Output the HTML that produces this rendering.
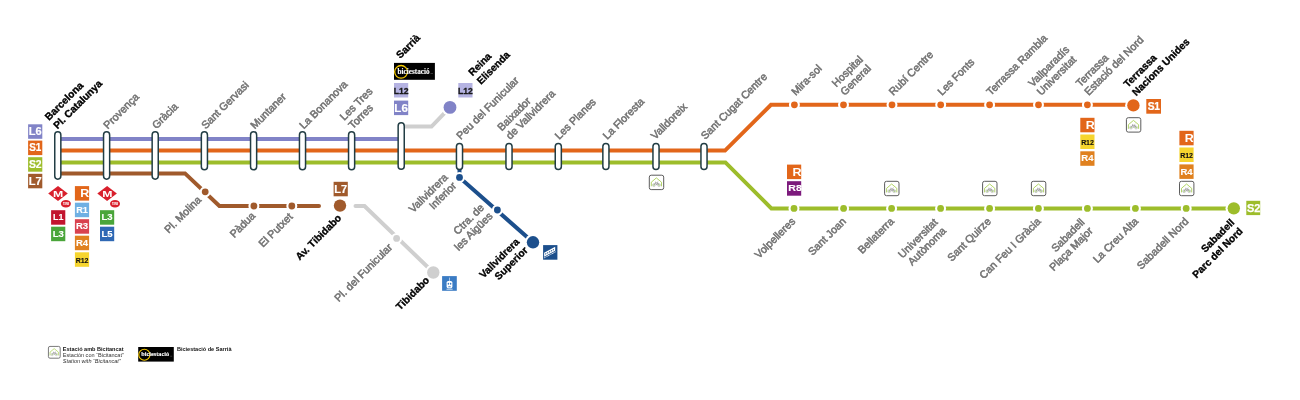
<!DOCTYPE html>
<html><head><meta charset="utf-8"><title>FGC</title>
<style>
html,body{margin:0;padding:0;background:#fff;}
body{width:1300px;height:400px;overflow:hidden;font-family:"Liberation Sans",sans-serif;}
svg{display:block;font-family:"Liberation Sans",sans-serif;will-change:transform;opacity:0.999;}
</style></head><body>
<svg width="1300" height="400" viewBox="0 0 1300 400">
<g fill="none" stroke-width="4" stroke-linejoin="miter" stroke-linecap="butt">
<path d="M57.8 139.0H401.2" stroke="#8183c7"/>
<path d="M57.8 173.4H185 L219.4 206 H319" stroke="#a05a2c" stroke-linecap="round"/>
<path d="M57.8 162.4H725.4 L771.4 208.4 H1233.5" stroke="#9dbd2b"/>
<path d="M57.8 150.6H725 L771 104.8 H1133.4" stroke="#e2661a"/>
<path d="M401.2 126.6H431.5L450 107.4" stroke="#cfcfcf"/>
<path d="M355.5 206H364.5L433.3 272.5" stroke="#cfcfcf" stroke-linecap="round"/>
<path d="M459.5 168V177.4L533 242.3" stroke="#1c4f8c"/>
</g>
<circle cx="794.4" cy="104.8" r="5.5" fill="#fff"/><circle cx="794.4" cy="104.8" r="3.4" fill="#e2661a"/>
<circle cx="843.5" cy="104.8" r="5.5" fill="#fff"/><circle cx="843.5" cy="104.8" r="3.4" fill="#e2661a"/>
<circle cx="892.0" cy="104.8" r="5.5" fill="#fff"/><circle cx="892.0" cy="104.8" r="3.4" fill="#e2661a"/>
<circle cx="940.7" cy="104.8" r="5.5" fill="#fff"/><circle cx="940.7" cy="104.8" r="3.4" fill="#e2661a"/>
<circle cx="989.6" cy="104.8" r="5.5" fill="#fff"/><circle cx="989.6" cy="104.8" r="3.4" fill="#e2661a"/>
<circle cx="1038.5" cy="104.8" r="5.5" fill="#fff"/><circle cx="1038.5" cy="104.8" r="3.4" fill="#e2661a"/>
<circle cx="1087.4" cy="104.8" r="5.5" fill="#fff"/><circle cx="1087.4" cy="104.8" r="3.4" fill="#e2661a"/>
<circle cx="1133.4" cy="105.4" r="8.3" fill="#fff"/><circle cx="1133.4" cy="105.4" r="6.2" fill="#e2661a"/>
<circle cx="794" cy="208.4" r="5.5" fill="#fff"/><circle cx="794" cy="208.4" r="3.4" fill="#9dbd2b"/>
<circle cx="843.6" cy="208.4" r="5.5" fill="#fff"/><circle cx="843.6" cy="208.4" r="3.4" fill="#9dbd2b"/>
<circle cx="891.6" cy="208.4" r="5.5" fill="#fff"/><circle cx="891.6" cy="208.4" r="3.4" fill="#9dbd2b"/>
<circle cx="940.6" cy="208.4" r="5.5" fill="#fff"/><circle cx="940.6" cy="208.4" r="3.4" fill="#9dbd2b"/>
<circle cx="989.6" cy="208.4" r="5.5" fill="#fff"/><circle cx="989.6" cy="208.4" r="3.4" fill="#9dbd2b"/>
<circle cx="1038.4" cy="208.4" r="5.5" fill="#fff"/><circle cx="1038.4" cy="208.4" r="3.4" fill="#9dbd2b"/>
<circle cx="1087.4" cy="208.4" r="5.5" fill="#fff"/><circle cx="1087.4" cy="208.4" r="3.4" fill="#9dbd2b"/>
<circle cx="1135.4" cy="208.4" r="5.5" fill="#fff"/><circle cx="1135.4" cy="208.4" r="3.4" fill="#9dbd2b"/>
<circle cx="1186.2" cy="208.4" r="5.5" fill="#fff"/><circle cx="1186.2" cy="208.4" r="3.4" fill="#9dbd2b"/>
<circle cx="1233.8" cy="208.35" r="8.3" fill="#fff"/><circle cx="1233.8" cy="208.35" r="6.2" fill="#9dbd2b"/>
<circle cx="205.2" cy="191.8" r="5.5" fill="#fff"/><circle cx="205.2" cy="191.8" r="3.4" fill="#a05a2c"/>
<circle cx="253.9" cy="206" r="5.5" fill="#fff"/><circle cx="253.9" cy="206" r="3.4" fill="#a05a2c"/>
<circle cx="291.8" cy="206" r="5.5" fill="#fff"/><circle cx="291.8" cy="206" r="3.4" fill="#a05a2c"/>
<circle cx="340" cy="205.6" r="8.3" fill="#fff"/><circle cx="340" cy="205.6" r="6.2" fill="#a05a2c"/>
<circle cx="396.6" cy="238.4" r="5.5" fill="#fff"/><circle cx="396.6" cy="238.4" r="3.4" fill="#cfcfcf"/>
<circle cx="433.3" cy="272.5" r="8.3" fill="#fff"/><circle cx="433.3" cy="272.5" r="6.2" fill="#cfcfcf"/>
<circle cx="459.5" cy="177.4" r="5.5" fill="#fff"/><circle cx="459.5" cy="177.4" r="3.4" fill="#1c4f8c"/>
<circle cx="497.4" cy="210" r="5.5" fill="#fff"/><circle cx="497.4" cy="210" r="3.4" fill="#1c4f8c"/>
<circle cx="533" cy="242.3" r="8.3" fill="#fff"/><circle cx="533" cy="242.3" r="6.2" fill="#1c4f8c"/>
<circle cx="450" cy="107.4" r="8.5" fill="#fff"/><circle cx="450" cy="107.4" r="6.4" fill="#8183c7"/>
<rect x="54.75" y="131.85" width="6.10" height="47.30" rx="3.05" fill="#fff" stroke="#223d44" stroke-width="1.5"/>
<rect x="103.55" y="131.85" width="6.10" height="47.30" rx="3.05" fill="#fff" stroke="#223d44" stroke-width="1.5"/>
<rect x="152.15" y="131.85" width="6.10" height="47.30" rx="3.05" fill="#fff" stroke="#223d44" stroke-width="1.5"/>
<rect x="201.35" y="131.85" width="6.10" height="37.90" rx="3.05" fill="#fff" stroke="#223d44" stroke-width="1.5"/>
<rect x="250.55" y="131.85" width="6.10" height="37.90" rx="3.05" fill="#fff" stroke="#223d44" stroke-width="1.5"/>
<rect x="299.45" y="131.85" width="6.10" height="37.90" rx="3.05" fill="#fff" stroke="#223d44" stroke-width="1.5"/>
<rect x="348.55" y="131.85" width="6.10" height="37.90" rx="3.05" fill="#fff" stroke="#223d44" stroke-width="1.5"/>
<rect x="398.15" y="122.85" width="6.10" height="46.50" rx="3.05" fill="#fff" stroke="#223d44" stroke-width="1.5"/>
<rect x="456.45" y="143.45" width="6.10" height="26.00" rx="3.05" fill="#fff" stroke="#223d44" stroke-width="1.5"/>
<rect x="505.95" y="143.45" width="6.10" height="26.00" rx="3.05" fill="#fff" stroke="#223d44" stroke-width="1.5"/>
<rect x="555.25" y="143.45" width="6.10" height="26.00" rx="3.05" fill="#fff" stroke="#223d44" stroke-width="1.5"/>
<rect x="602.85" y="143.45" width="6.10" height="26.00" rx="3.05" fill="#fff" stroke="#223d44" stroke-width="1.5"/>
<rect x="652.95" y="143.45" width="6.10" height="26.00" rx="3.05" fill="#fff" stroke="#223d44" stroke-width="1.5"/>
<rect x="700.95" y="143.45" width="6.10" height="26.00" rx="3.05" fill="#fff" stroke="#223d44" stroke-width="1.5"/>
<rect x="28.1" y="124.3" width="14.2" height="14.5" fill="#8183c7"/>
<text transform="translate(35.20 135.20) scale(1.0 1)" font-size="11.0" font-weight="700" fill="#fff" stroke="#fff" stroke-width="0.2" text-anchor="middle" letter-spacing="0">L6</text>
<rect x="28.1" y="140.6" width="14.2" height="14.5" fill="#e2661a"/>
<text transform="translate(35.20 151.30) scale(0.9 1)" font-size="11.0" font-weight="700" fill="#fff" stroke="#fff" stroke-width="0.2" text-anchor="middle" letter-spacing="-0.2">S1</text>
<rect x="28.1" y="157.2" width="14.2" height="14.5" fill="#9dbd2b"/>
<text transform="translate(35.20 167.90) scale(0.95 1)" font-size="11.0" font-weight="700" fill="#fff" stroke="#fff" stroke-width="0.2" text-anchor="middle" letter-spacing="-0.2">S2</text>
<rect x="28.1" y="173.8" width="14.2" height="14.5" fill="#a05a2c"/>
<text transform="translate(35.20 184.70) scale(1.0 1)" font-size="11.0" font-weight="700" fill="#fff" stroke="#fff" stroke-width="0.2" text-anchor="middle" letter-spacing="0">L7</text>
<rect x="51.1" y="210.2" width="14.2" height="14.5" fill="#c2142e"/>
<text transform="translate(58.20 220.30) scale(0.97 1)" font-size="9.2" font-weight="700" fill="#fff" stroke="#fff" stroke-width="0.12" text-anchor="middle" letter-spacing="0">L1</text>
<rect x="51.1" y="226.7" width="14.2" height="14.5" fill="#4aa53a"/>
<text transform="translate(58.20 236.80) scale(1.04 1)" font-size="9.2" font-weight="700" fill="#fff" stroke="#fff" stroke-width="0.12" text-anchor="middle" letter-spacing="0">L3</text>
<clipPath id="rc1"><rect x="74.9" y="186.1" width="14.2" height="14.5"/></clipPath>
<rect x="74.9" y="186.1" width="14.2" height="14.5" fill="#e2661a"/>
<g clip-path="url(#rc1)"><text transform="translate(89.40 197.00) scale(1.18 1)" font-size="10.6" font-weight="700" fill="#fff" text-anchor="end">R</text></g>
<rect x="74.9" y="202.7" width="14.2" height="14.5" fill="#6fb0e3"/>
<text transform="translate(82.00 212.80) scale(1.0 1)" font-size="9.2" font-weight="700" fill="#fff" stroke="#fff" stroke-width="0.12" text-anchor="middle" letter-spacing="0">R1</text>
<rect x="74.9" y="219.2" width="14.2" height="14.5" fill="#d9424f"/>
<text transform="translate(82.00 229.30) scale(1.04 1)" font-size="9.2" font-weight="700" fill="#fff" stroke="#fff" stroke-width="0.12" text-anchor="middle" letter-spacing="0">R3</text>
<rect x="74.9" y="235.7" width="14.2" height="14.5" fill="#e0811f"/>
<text transform="translate(82.00 245.80) scale(1.04 1)" font-size="9.2" font-weight="700" fill="#fff" stroke="#fff" stroke-width="0.12" text-anchor="middle" letter-spacing="0">R4</text>
<rect x="74.9" y="252.3" width="14.2" height="14.5" fill="#f6d52e"/>
<text transform="translate(82.00 262.70) scale(1.0 1)" font-size="7" font-weight="700" fill="#111" stroke="#111" stroke-width="0.12" text-anchor="middle" letter-spacing="-0.1">R12</text>
<rect x="100" y="210.2" width="14.2" height="14.5" fill="#4aa53a"/>
<text transform="translate(107.10 220.30) scale(1.04 1)" font-size="9.2" font-weight="700" fill="#fff" stroke="#fff" stroke-width="0.12" text-anchor="middle" letter-spacing="0">L3</text>
<rect x="100" y="226.7" width="14.2" height="14.5" fill="#2f68b4"/>
<text transform="translate(107.10 236.80) scale(1.04 1)" font-size="9.2" font-weight="700" fill="#fff" stroke="#fff" stroke-width="0.12" text-anchor="middle" letter-spacing="0">L5</text>
<rect x="333.6" y="181.8" width="14.2" height="14.5" fill="#a05a2c"/>
<text transform="translate(340.70 192.70) scale(1.0 1)" font-size="11.0" font-weight="700" fill="#fff" stroke="#fff" stroke-width="0.2" text-anchor="middle" letter-spacing="0">L7</text>
<rect x="394" y="83.0" width="14.2" height="14.5" fill="#b5b3e2"/>
<text transform="translate(401.10 93.90) scale(0.89 1)" font-size="9.7" font-weight="700" fill="#1a1a1a" stroke="#1a1a1a" stroke-width="0.3" text-anchor="middle" letter-spacing="0">L12</text>
<rect x="394" y="100.6" width="14.2" height="14.5" fill="#8183c7"/>
<text transform="translate(401.10 111.50) scale(1.05 1)" font-size="11.0" font-weight="700" fill="#fff" stroke="#fff" stroke-width="0.2" text-anchor="middle" letter-spacing="0">L6</text>
<rect x="458.3" y="83.0" width="14.2" height="14.5" fill="#b5b3e2"/>
<text transform="translate(465.40 93.90) scale(0.89 1)" font-size="9.7" font-weight="700" fill="#1a1a1a" stroke="#1a1a1a" stroke-width="0.3" text-anchor="middle" letter-spacing="0">L12</text>
<clipPath id="rc2"><rect x="787" y="164.6" width="14.2" height="14.5"/></clipPath>
<rect x="787" y="164.6" width="14.2" height="14.5" fill="#e2661a"/>
<g clip-path="url(#rc2)"><text transform="translate(801.50 175.50) scale(1.18 1)" font-size="10.6" font-weight="700" fill="#fff" text-anchor="end">R</text></g>
<rect x="787" y="181.2" width="14.2" height="14.5" fill="#7c1a7c"/>
<text transform="translate(795.10 191.30) scale(1.15 1)" font-size="9.2" font-weight="700" fill="#fff" stroke="#fff" stroke-width="0.12" text-anchor="middle" letter-spacing="0">R8</text>
<clipPath id="rc3"><rect x="1080.3" y="117.8" width="14.2" height="14.5"/></clipPath>
<rect x="1080.3" y="117.8" width="14.2" height="14.5" fill="#e2661a"/>
<g clip-path="url(#rc3)"><text transform="translate(1094.80 128.70) scale(1.18 1)" font-size="10.6" font-weight="700" fill="#fff" text-anchor="end">R</text></g>
<rect x="1080.3" y="134.5" width="14.2" height="14.5" fill="#f6d52e"/>
<text transform="translate(1087.40 144.90) scale(1.0 1)" font-size="7" font-weight="700" fill="#111" stroke="#111" stroke-width="0.12" text-anchor="middle" letter-spacing="-0.1">R12</text>
<rect x="1080.3" y="151.3" width="14.2" height="14.5" fill="#e0811f"/>
<text transform="translate(1087.40 161.40) scale(1.04 1)" font-size="9.2" font-weight="700" fill="#fff" stroke="#fff" stroke-width="0.12" text-anchor="middle" letter-spacing="0">R4</text>
<clipPath id="rc4"><rect x="1179.4" y="130.8" width="14.2" height="14.5"/></clipPath>
<rect x="1179.4" y="130.8" width="14.2" height="14.5" fill="#e2661a"/>
<g clip-path="url(#rc4)"><text transform="translate(1193.90 141.70) scale(1.18 1)" font-size="10.6" font-weight="700" fill="#fff" text-anchor="end">R</text></g>
<rect x="1179.4" y="147.5" width="14.2" height="14.5" fill="#f6d52e"/>
<text transform="translate(1186.50 157.90) scale(1.0 1)" font-size="7" font-weight="700" fill="#111" stroke="#111" stroke-width="0.12" text-anchor="middle" letter-spacing="-0.1">R12</text>
<rect x="1179.4" y="164.4" width="14.2" height="14.5" fill="#e0811f"/>
<text transform="translate(1186.50 174.50) scale(1.04 1)" font-size="9.2" font-weight="700" fill="#fff" stroke="#fff" stroke-width="0.12" text-anchor="middle" letter-spacing="0">R4</text>
<rect x="1146.3" y="99" width="14.7" height="14.7" fill="#e2661a"/>
<text transform="translate(1153.65 109.90) scale(0.93 1)" font-size="11.0" font-weight="700" fill="#fff" stroke="#fff" stroke-width="0.25" text-anchor="middle" letter-spacing="-0.3">S1</text>
<rect x="1246.3" y="200.8" width="13.9" height="14.3" fill="#9dbd2b"/>
<text transform="translate(1253.55 211.70) scale(1.0 1)" font-size="11.0" font-weight="700" fill="#fff" stroke="#fff" stroke-width="0.25" text-anchor="middle" letter-spacing="-0.2">S2</text>
<path d="M48.2 193.5L58 186.0L67.8 193.5L58 201.0Z" fill="#d9202d"/>
<text transform="translate(58.2 196.5) scale(1.5 1)" font-size="8.2" font-weight="700" fill="#fff" text-anchor="middle">M</text>
<ellipse cx="65.9" cy="203.8" rx="5.0" ry="3.8" fill="#d9202d"/>
<text x="65.9" y="204.9" font-size="3" font-weight="700" font-style="italic" fill="#fff" text-anchor="middle">TMB</text>
<path d="M97.3 193.5L107.1 186.0L116.89999999999999 193.5L107.1 201.0Z" fill="#d9202d"/>
<text transform="translate(107.3 196.5) scale(1.5 1)" font-size="8.2" font-weight="700" fill="#fff" text-anchor="middle">M</text>
<ellipse cx="115.0" cy="203.8" rx="5.0" ry="3.8" fill="#d9202d"/>
<text x="115.0" y="204.9" font-size="3" font-weight="700" font-style="italic" fill="#fff" text-anchor="middle">TMB</text>
<g transform="translate(648.8 174.7) scale(1.0)">
<rect x="0.5" y="0.5" width="14.4" height="14.4" rx="1.9" fill="#fff" stroke="#5c5c5c" stroke-width="1.0"/>
<path d="M2.5 11.6V7.5L7.55 3.2L12.7 7.5V11.6" fill="none" stroke="#a4ce4b" stroke-width="0.85" stroke-linejoin="round"/>
<circle cx="5.1" cy="10.4" r="1.45" fill="#eee" stroke="#aaa" stroke-width="0.5"/><circle cx="10.2" cy="10.4" r="1.45" fill="#eee" stroke="#aaa" stroke-width="0.5"/>
<path d="M5.1 10.4L6.7 8.1H9.0L10.2 10.4M6.7 8.1L7.9 10.4L9.0 8.1M6.3 7.4H7.2M8.7 7.3L9.4 6.9" fill="none" stroke="#777" stroke-width="0.55"/>
<circle cx="5.1" cy="10.4" r="0.6" fill="#8fd14f"/><circle cx="10.2" cy="10.4" r="0.6" fill="#8fd14f"/>
</g>
<g transform="translate(884.1 180.8) scale(1.0)">
<rect x="0.5" y="0.5" width="14.4" height="14.4" rx="1.9" fill="#fff" stroke="#5c5c5c" stroke-width="1.0"/>
<path d="M2.5 11.6V7.5L7.55 3.2L12.7 7.5V11.6" fill="none" stroke="#a4ce4b" stroke-width="0.85" stroke-linejoin="round"/>
<circle cx="5.1" cy="10.4" r="1.45" fill="#eee" stroke="#aaa" stroke-width="0.5"/><circle cx="10.2" cy="10.4" r="1.45" fill="#eee" stroke="#aaa" stroke-width="0.5"/>
<path d="M5.1 10.4L6.7 8.1H9.0L10.2 10.4M6.7 8.1L7.9 10.4L9.0 8.1M6.3 7.4H7.2M8.7 7.3L9.4 6.9" fill="none" stroke="#777" stroke-width="0.55"/>
<circle cx="5.1" cy="10.4" r="0.6" fill="#8fd14f"/><circle cx="10.2" cy="10.4" r="0.6" fill="#8fd14f"/>
</g>
<g transform="translate(982.1 180.8) scale(1.0)">
<rect x="0.5" y="0.5" width="14.4" height="14.4" rx="1.9" fill="#fff" stroke="#5c5c5c" stroke-width="1.0"/>
<path d="M2.5 11.6V7.5L7.55 3.2L12.7 7.5V11.6" fill="none" stroke="#a4ce4b" stroke-width="0.85" stroke-linejoin="round"/>
<circle cx="5.1" cy="10.4" r="1.45" fill="#eee" stroke="#aaa" stroke-width="0.5"/><circle cx="10.2" cy="10.4" r="1.45" fill="#eee" stroke="#aaa" stroke-width="0.5"/>
<path d="M5.1 10.4L6.7 8.1H9.0L10.2 10.4M6.7 8.1L7.9 10.4L9.0 8.1M6.3 7.4H7.2M8.7 7.3L9.4 6.9" fill="none" stroke="#777" stroke-width="0.55"/>
<circle cx="5.1" cy="10.4" r="0.6" fill="#8fd14f"/><circle cx="10.2" cy="10.4" r="0.6" fill="#8fd14f"/>
</g>
<g transform="translate(1030.9 180.8) scale(1.0)">
<rect x="0.5" y="0.5" width="14.4" height="14.4" rx="1.9" fill="#fff" stroke="#5c5c5c" stroke-width="1.0"/>
<path d="M2.5 11.6V7.5L7.55 3.2L12.7 7.5V11.6" fill="none" stroke="#a4ce4b" stroke-width="0.85" stroke-linejoin="round"/>
<circle cx="5.1" cy="10.4" r="1.45" fill="#eee" stroke="#aaa" stroke-width="0.5"/><circle cx="10.2" cy="10.4" r="1.45" fill="#eee" stroke="#aaa" stroke-width="0.5"/>
<path d="M5.1 10.4L6.7 8.1H9.0L10.2 10.4M6.7 8.1L7.9 10.4L9.0 8.1M6.3 7.4H7.2M8.7 7.3L9.4 6.9" fill="none" stroke="#777" stroke-width="0.55"/>
<circle cx="5.1" cy="10.4" r="0.6" fill="#8fd14f"/><circle cx="10.2" cy="10.4" r="0.6" fill="#8fd14f"/>
</g>
<g transform="translate(1179.0 180.8) scale(1.0)">
<rect x="0.5" y="0.5" width="14.4" height="14.4" rx="1.9" fill="#fff" stroke="#5c5c5c" stroke-width="1.0"/>
<path d="M2.5 11.6V7.5L7.55 3.2L12.7 7.5V11.6" fill="none" stroke="#a4ce4b" stroke-width="0.85" stroke-linejoin="round"/>
<circle cx="5.1" cy="10.4" r="1.45" fill="#eee" stroke="#aaa" stroke-width="0.5"/><circle cx="10.2" cy="10.4" r="1.45" fill="#eee" stroke="#aaa" stroke-width="0.5"/>
<path d="M5.1 10.4L6.7 8.1H9.0L10.2 10.4M6.7 8.1L7.9 10.4L9.0 8.1M6.3 7.4H7.2M8.7 7.3L9.4 6.9" fill="none" stroke="#777" stroke-width="0.55"/>
<circle cx="5.1" cy="10.4" r="0.6" fill="#8fd14f"/><circle cx="10.2" cy="10.4" r="0.6" fill="#8fd14f"/>
</g>
<g transform="translate(1125.9 117.2) scale(1.0)">
<rect x="0.5" y="0.5" width="14.4" height="14.4" rx="1.9" fill="#fff" stroke="#5c5c5c" stroke-width="1.0"/>
<path d="M2.5 11.6V7.5L7.55 3.2L12.7 7.5V11.6" fill="none" stroke="#a4ce4b" stroke-width="0.85" stroke-linejoin="round"/>
<circle cx="5.1" cy="10.4" r="1.45" fill="#eee" stroke="#aaa" stroke-width="0.5"/><circle cx="10.2" cy="10.4" r="1.45" fill="#eee" stroke="#aaa" stroke-width="0.5"/>
<path d="M5.1 10.4L6.7 8.1H9.0L10.2 10.4M6.7 8.1L7.9 10.4L9.0 8.1M6.3 7.4H7.2M8.7 7.3L9.4 6.9" fill="none" stroke="#777" stroke-width="0.55"/>
<circle cx="5.1" cy="10.4" r="0.6" fill="#8fd14f"/><circle cx="10.2" cy="10.4" r="0.6" fill="#8fd14f"/>
</g>
<g transform="translate(48 346) scale(0.8181818181818181)">
<rect x="0.5" y="0.5" width="14.4" height="14.4" rx="1.9" fill="#fff" stroke="#5c5c5c" stroke-width="1.0"/>
<path d="M2.5 11.6V7.5L7.55 3.2L12.7 7.5V11.6" fill="none" stroke="#a4ce4b" stroke-width="0.85" stroke-linejoin="round"/>
<circle cx="5.1" cy="10.4" r="1.45" fill="#eee" stroke="#aaa" stroke-width="0.5"/><circle cx="10.2" cy="10.4" r="1.45" fill="#eee" stroke="#aaa" stroke-width="0.5"/>
<path d="M5.1 10.4L6.7 8.1H9.0L10.2 10.4M6.7 8.1L7.9 10.4L9.0 8.1M6.3 7.4H7.2M8.7 7.3L9.4 6.9" fill="none" stroke="#777" stroke-width="0.55"/>
<circle cx="5.1" cy="10.4" r="0.6" fill="#8fd14f"/><circle cx="10.2" cy="10.4" r="0.6" fill="#8fd14f"/>
</g>
<g transform="translate(394.0 62.9) scale(1.0024509803921569 0.9941176470588234)">
<rect x="0" y="0" width="40.8" height="17" fill="#000"/>
<circle cx="7.05" cy="9.0" r="6.4" fill="none" stroke="#f8cc00" stroke-width="1.3"/>
<text transform="translate(3.6 11.0) scale(0.97 1)" font-family="Liberation Serif, serif" font-size="7.4" font-weight="700" fill="#fff" stroke="#fff" stroke-width="0.1" letter-spacing="0">biciestació</text>
<path d="M36.6 10.7h0.5M37.5 10.7h0.5M38.4 10.7h0.5" stroke="#ccc" stroke-width="0.5"/>
</g>
<g transform="translate(138.2 347) scale(0.8725490196078433 0.8588235294117647)">
<rect x="0" y="0" width="40.8" height="17" fill="#000"/>
<circle cx="7.05" cy="9.0" r="6.4" fill="none" stroke="#f8cc00" stroke-width="1.3"/>
<text transform="translate(3.6 11.0) scale(0.97 1)" font-family="Liberation Serif, serif" font-size="7.4" font-weight="700" fill="#fff" stroke="#fff" stroke-width="0.1" letter-spacing="0">biciestació</text>
<path d="M36.6 10.7h0.5M37.5 10.7h0.5M38.4 10.7h0.5" stroke="#ccc" stroke-width="0.5"/>
</g>
<g transform="translate(442.1 276.1)"><rect width="14.7" height="14.7" fill="#3b7cc4"/><path d="M7.4 1.5V5" stroke="#fff" stroke-width="0.55"/><rect x="4.5" y="4.8" width="5.8" height="7.3" rx="1.6" fill="#fff"/><ellipse cx="6.25" cy="7.6" rx="0.75" ry="0.95" fill="#3b7cc4"/><ellipse cx="8.55" cy="7.6" rx="0.75" ry="0.95" fill="#3b7cc4"/><ellipse cx="7.4" cy="10.7" rx="1.5" ry="0.5" fill="#3b7cc4"/><path d="M4.4 13.1H10.5" stroke="#fff" stroke-width="0.8"/></g>
<g transform="translate(543.1 245.1)"><rect width="14.3" height="14.6" fill="#1c4f8c"/><path d="M1.0 7.6L12.1 1.7V5.7L1.0 11.6Z" fill="#fff"/><path d="M2.1 8.5l1.1-0.58v1.1l-1.1 0.58zM4.0 7.5l1.1-0.58v1.1l-1.1 0.58zM5.9 6.5l1.1-0.58v1.1l-1.1 0.58zM7.8 5.5l1.1-0.58v1.1l-1.1 0.58zM9.7 4.5l1.1-0.58v1.1l-1.1 0.58z" fill="#1c4f8c"/><path d="M1.2 12.7L12.9 6.5" stroke="#fff" stroke-width="1.0" stroke-dasharray="1.0 0.45"/></g>
<g transform="translate(57.55 129.5) rotate(-45)" font-size="10.2" font-weight="700" fill="#000" stroke="#000" stroke-width="0.35" text-anchor="start">
<text x="0" y="-12.0">Barcelona</text>
<text x="0" y="0.0">Pl. Catalunya</text>
</g>
<g transform="translate(107.85 129.5) rotate(-45)" font-size="10.7" font-weight="400" fill="#747474" stroke="#747474" stroke-width="0.55" text-anchor="start">
<text x="0" y="0.0">Provença</text>
</g>
<g transform="translate(156.45 129.5) rotate(-45)" font-size="10.7" font-weight="400" fill="#747474" stroke="#747474" stroke-width="0.55" text-anchor="start">
<text x="0" y="0.0">Gràcia</text>
</g>
<g transform="translate(205.65 129.5) rotate(-45)" font-size="10.7" font-weight="400" fill="#747474" stroke="#747474" stroke-width="0.55" text-anchor="start">
<text x="0" y="0.0">Sant Gervasi</text>
</g>
<g transform="translate(254.85 129.5) rotate(-45)" font-size="10.7" font-weight="400" fill="#747474" stroke="#747474" stroke-width="0.55" text-anchor="start">
<text x="0" y="0.0">Muntaner</text>
</g>
<g transform="translate(303.75 129.5) rotate(-45)" font-size="10.7" font-weight="400" fill="#747474" stroke="#747474" stroke-width="0.55" text-anchor="start">
<text x="0" y="0.0">La Bonanova</text>
</g>
<g transform="translate(352.85 129.5) rotate(-45)" font-size="10.7" font-weight="400" fill="#747474" stroke="#747474" stroke-width="0.55" text-anchor="start">
<text x="0" y="-12.0">Les Tres</text>
<text x="0" y="0.0">Torres</text>
</g>
<g transform="translate(400.35 59) rotate(-45)" font-size="10.2" font-weight="700" fill="#000" stroke="#000" stroke-width="0.35" text-anchor="start">
<text x="0" y="0.0">Sarrià</text>
</g>
<g transform="translate(481 85) rotate(-45)" font-size="10.2" font-weight="700" fill="#000" stroke="#000" stroke-width="0.35" text-anchor="start">
<text x="0" y="-12.0">Reina</text>
<text x="0" y="0.0">Elisenda</text>
</g>
<g transform="translate(460.75 140) rotate(-45)" font-size="10.7" font-weight="400" fill="#747474" stroke="#747474" stroke-width="0.55" text-anchor="start">
<text x="0" y="0.0">Peu del Funicular</text>
</g>
<g transform="translate(510.25 140) rotate(-45)" font-size="10.7" font-weight="400" fill="#747474" stroke="#747474" stroke-width="0.55" text-anchor="start">
<text x="0" y="-12.0">Baixador</text>
<text x="0" y="0.0">de Vallvidrera</text>
</g>
<g transform="translate(559.25 140) rotate(-45)" font-size="10.7" font-weight="400" fill="#747474" stroke="#747474" stroke-width="0.55" text-anchor="start">
<text x="0" y="0.0">Les Planes</text>
</g>
<g transform="translate(607.25 140) rotate(-45)" font-size="10.7" font-weight="400" fill="#747474" stroke="#747474" stroke-width="0.55" text-anchor="start">
<text x="0" y="0.0">La Floresta</text>
</g>
<g transform="translate(655.25 140) rotate(-45)" font-size="10.7" font-weight="400" fill="#747474" stroke="#747474" stroke-width="0.55" text-anchor="start">
<text x="0" y="0.0">Valldoreix</text>
</g>
<g transform="translate(705.25 140) rotate(-45)" font-size="10.7" font-weight="400" fill="#747474" stroke="#747474" stroke-width="0.55" text-anchor="start">
<text x="0" y="0.0">Sant Cugat Centre</text>
</g>
<g transform="translate(795.65 96) rotate(-45)" font-size="10.7" font-weight="400" fill="#747474" stroke="#747474" stroke-width="0.55" text-anchor="start">
<text x="0" y="0.0">Mira-sol</text>
</g>
<g transform="translate(844.75 96) rotate(-45)" font-size="10.7" font-weight="400" fill="#747474" stroke="#747474" stroke-width="0.55" text-anchor="start">
<text x="0" y="-12.0">Hospital</text>
<text x="0" y="0.0">General</text>
</g>
<g transform="translate(893.25 96) rotate(-45)" font-size="10.7" font-weight="400" fill="#747474" stroke="#747474" stroke-width="0.55" text-anchor="start">
<text x="0" y="0.0">Rubí Centre</text>
</g>
<g transform="translate(941.95 96) rotate(-45)" font-size="10.7" font-weight="400" fill="#747474" stroke="#747474" stroke-width="0.55" text-anchor="start">
<text x="0" y="0.0">Les Fonts</text>
</g>
<g transform="translate(990.85 96) rotate(-45)" font-size="10.7" font-weight="400" fill="#747474" stroke="#747474" stroke-width="0.55" text-anchor="start">
<text x="0" y="0.0">Terrassa Rambla</text>
</g>
<g transform="translate(1041.25 96) rotate(-45)" font-size="10.7" font-weight="400" fill="#747474" stroke="#747474" stroke-width="0.55" text-anchor="start">
<text x="0" y="-12.0">Vallparadís</text>
<text x="0" y="0.0">Universitat</text>
</g>
<g transform="translate(1088.65 96) rotate(-45)" font-size="10.7" font-weight="400" fill="#747474" stroke="#747474" stroke-width="0.55" text-anchor="start">
<text x="0" y="-12.0">Terrassa</text>
<text x="0" y="0.0">Estació del Nord</text>
</g>
<g transform="translate(1136.2 96.5) rotate(-45)" font-size="10.2" font-weight="700" fill="#000" stroke="#000" stroke-width="0.35" text-anchor="start">
<text x="0" y="-12.0">Terrassa</text>
<text x="0" y="0.0">Nacions Unides</text>
</g>
<g transform="translate(796 222) rotate(-45)" font-size="10.7" font-weight="400" fill="#747474" stroke="#747474" stroke-width="0.55" text-anchor="end">
<text x="0" y="0.0">Volpelleres</text>
</g>
<g transform="translate(846.6 222) rotate(-45)" font-size="10.7" font-weight="400" fill="#747474" stroke="#747474" stroke-width="0.55" text-anchor="end">
<text x="0" y="0.0">Sant Joan</text>
</g>
<g transform="translate(894.6 222) rotate(-45)" font-size="10.7" font-weight="400" fill="#747474" stroke="#747474" stroke-width="0.55" text-anchor="end">
<text x="0" y="0.0">Bellaterra</text>
</g>
<g transform="translate(938.3000000000001 223) rotate(-45)" font-size="10.7" font-weight="400" fill="#747474" stroke="#747474" stroke-width="0.55" text-anchor="end">
<text x="0" y="0.0">Universitat</text>
<text x="0" y="12.0">Autònoma</text>
</g>
<g transform="translate(991.6 222) rotate(-45)" font-size="10.7" font-weight="400" fill="#747474" stroke="#747474" stroke-width="0.55" text-anchor="end">
<text x="0" y="0.0">Sant Quirze</text>
</g>
<g transform="translate(1041.4 222) rotate(-45)" font-size="10.7" font-weight="400" fill="#747474" stroke="#747474" stroke-width="0.55" text-anchor="end">
<text x="0" y="0.0">Can Feu I Gràcia</text>
</g>
<g transform="translate(1085.1000000000001 223) rotate(-45)" font-size="10.7" font-weight="400" fill="#747474" stroke="#747474" stroke-width="0.55" text-anchor="end">
<text x="0" y="0.0">Sabadell</text>
<text x="0" y="12.0">Plaça Major</text>
</g>
<g transform="translate(1139 222) rotate(-45)" font-size="10.7" font-weight="400" fill="#747474" stroke="#747474" stroke-width="0.55" text-anchor="end">
<text x="0" y="0.0">La Creu Alta</text>
</g>
<g transform="translate(1189.2 222) rotate(-45)" font-size="10.7" font-weight="400" fill="#747474" stroke="#747474" stroke-width="0.55" text-anchor="end">
<text x="0" y="0.0">Sabadell Nord</text>
</g>
<g transform="translate(1234.9 223.3) rotate(-45)" font-size="10.2" font-weight="700" fill="#000" stroke="#000" stroke-width="0.35" text-anchor="end">
<text x="0" y="0.0">Sabadell</text>
<text x="0" y="12.0">Parc del Nord</text>
</g>
<g transform="translate(202 200.5) rotate(-45)" font-size="10.7" font-weight="400" fill="#747474" stroke="#747474" stroke-width="0.55" text-anchor="end">
<text x="0" y="0.0">Pl. Molina</text>
</g>
<g transform="translate(256 216.5) rotate(-45)" font-size="10.7" font-weight="400" fill="#747474" stroke="#747474" stroke-width="0.55" text-anchor="end">
<text x="0" y="0.0">Pàdua</text>
</g>
<g transform="translate(293.3 217.5) rotate(-45)" font-size="10.7" font-weight="400" fill="#747474" stroke="#747474" stroke-width="0.55" text-anchor="end">
<text x="0" y="0.0">El Putxet</text>
</g>
<g transform="translate(342 218.5) rotate(-45)" font-size="10.2" font-weight="700" fill="#000" stroke="#000" stroke-width="0.35" text-anchor="end">
<text x="0" y="0.0">Av. Tibidabo</text>
</g>
<g transform="translate(393 248) rotate(-45)" font-size="10.7" font-weight="400" fill="#747474" stroke="#747474" stroke-width="0.55" text-anchor="end">
<text x="0" y="0.0">Pl. del Funicular</text>
</g>
<g transform="translate(430 280.8) rotate(-45)" font-size="10.2" font-weight="700" fill="#000" stroke="#000" stroke-width="0.35" text-anchor="end">
<text x="0" y="0.0">Tibidabo</text>
</g>
<g transform="translate(448.5 178) rotate(-45)" font-size="10.7" font-weight="400" fill="#747474" stroke="#747474" stroke-width="0.55" text-anchor="end">
<text x="0" y="0.0">Vallvidrera</text>
<text x="0" y="12.0">Inferior</text>
</g>
<g transform="translate(484.75 208.25) rotate(-45)" font-size="10.7" font-weight="400" fill="#747474" stroke="#747474" stroke-width="0.55" text-anchor="end">
<text x="0" y="0.0">Ctra. de</text>
<text x="0" y="12.0">les Aigües</text>
</g>
<g transform="translate(520 242.4) rotate(-45)" font-size="10.2" font-weight="700" fill="#000" stroke="#000" stroke-width="0.35" text-anchor="end">
<text x="0" y="0.0">Vallvidrera</text>
<text x="0" y="12.0">Superior</text>
</g>
<g font-size="5.55" fill="#222">
<text x="62.8" y="351" font-weight="700" fill="#111">Estació amb Bicitancat</text>
<text x="62.8" y="357.1" fill="#333">Estación con “Bicitancat”</text>
<text x="62.8" y="363.2" font-style="italic" fill="#333">Station with “Bicitancat”</text>
<text x="176.9" y="351" font-weight="700" fill="#111">Biciestació de Sarrià</text>
</g>
</svg>
</body></html>
